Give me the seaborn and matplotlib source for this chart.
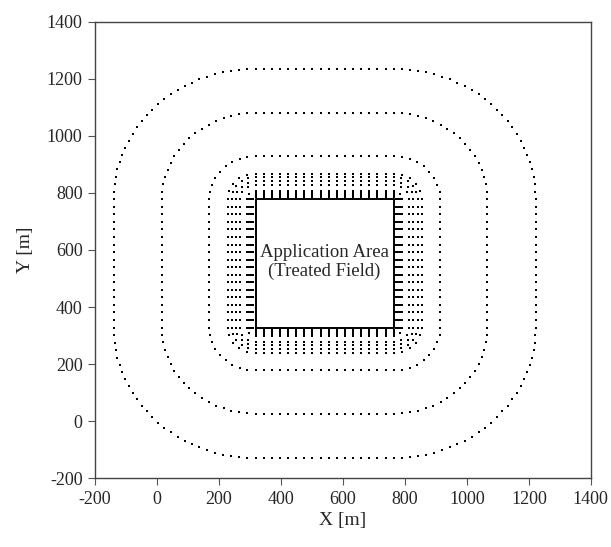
import numpy as np
import pandas as pd
import matplotlib
matplotlib.use("Agg")
import matplotlib.pyplot as plt
import seaborn as sns

# ---- data ----
field_x = [318, 764]          # treated field extent, x [m]
field_y = [328, 778]          # treated field extent, y [m]
points_per_side = 18          # receptor positions along each field edge
inner_dist = [8, 12, 16, 20, 24, 28, 50, 63, 77, 90]   # near-field receptor distances [m]
ring_dist = [150, 302, 458]   # far receptor rings [m]
x_ticks = [-200, 0, 200, 400, 600, 800, 1000, 1200, 1400]
y_ticks = [-200, 0, 200, 400, 600, 800, 1000, 1200, 1400]
field_label = "Application Area\n(Treated Field)"


def ring(d, x0, x1, y0, y1, n, step):
    xs = np.linspace(x0, x1, n)
    ys = np.linspace(y0, y1, n)
    px, py = [], []
    px += list(xs); py += [y1 + d] * n
    px += list(xs); py += [y0 - d] * n
    px += [x0 - d] * n; py += list(ys)
    px += [x1 + d] * n; py += list(ys)
    m = max(1, int(round(np.pi / 2 * d / step)))
    corners = [(x1, y1, 0), (x0, y1, 90), (x0, y0, 180), (x1, y0, 270)]
    for cx, cy, a0 in corners:
        for k in range(1, m):
            a = np.deg2rad(a0 + 90.0 * k / m)
            px.append(cx + d * np.cos(a))
            py.append(cy + d * np.sin(a))
    return px, py


x0, x1 = field_x
y0, y1 = field_y
step = (x1 - x0) / (points_per_side - 1)
all_x, all_y = [], []
for d in inner_dist + ring_dist:
    a, b = ring(d, x0, x1, y0, y1, points_per_side, step)
    all_x += a
    all_y += b
df = pd.DataFrame({"x": all_x, "y": all_y})

sns.set_style("white")
plt.rcParams["font.family"] = ["Liberation Serif", "DejaVu Serif"]

fig = plt.figure(figsize=(6.11, 5.47), dpi=100)
ax = fig.add_axes([0.1555, 0.126, 0.8115, 0.834])

sns.scatterplot(data=df, x="x", y="y", ax=ax, color="black", s=3.2,
                marker="s", linewidth=0, legend=False)

ax.plot([x0, x1, x1, x0, x0], [y0, y0, y1, y1, y0], color="black", lw=1.4)
ax.text((x0 + x1) / 2, (y0 + y1) / 2 + 5, field_label, ha="center", va="center",
        fontsize=13.5, linespacing=1.15)

ax.set_xlim(-200, 1400)
ax.set_ylim(-200, 1400)
ax.set_xticks(x_ticks)
ax.set_yticks(y_ticks)
ax.set_xticklabels([str(t) for t in x_ticks], fontsize=13)
ax.set_yticklabels([str(t) for t in y_ticks], fontsize=13)
ax.tick_params(axis="both", direction="out", length=5, width=0.8, color="#555555",
               bottom=True, left=True, top=False, right=False, pad=4)
ax.set_xlabel("X [m]", fontsize=14, labelpad=3)
ax.set_ylabel("Y [m]", fontsize=14, labelpad=9)
for s in ax.spines.values():
    s.set_color("#444444")
    s.set_linewidth(1.0)

fig.savefig("out.png", dpi=100)
